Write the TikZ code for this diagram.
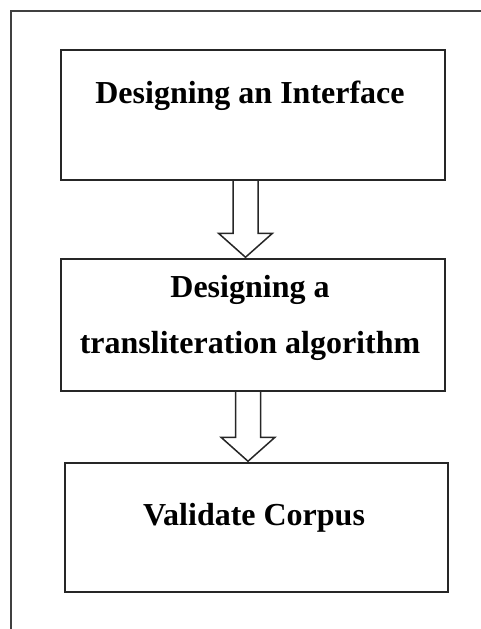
\documentclass[tikz,border=0pt]{standalone}
\usepackage{fontspec}
\setmainfont{Liberation Serif}
\usetikzlibrary{calc}

\tikzset{
  stagebox/.style={draw=black!85, line width=1.5pt, minimum width=#1, inner sep=0pt},
  stagetext/.style={font=\bfseries\fontsize{32}{38}\selectfont, inner sep=0pt, anchor=base},
  hollow/.style={draw=black!85, line width=1.5pt, line join=miter},
  frameline/.style={draw=black!75, line width=2pt}
}

% Open block arrow from the bottom of one box to the top of the next.
% #1 source node, #2 target node, #3 horizontal shift of the arrow axis
\newcommand{\hollowarrow}[3]{%
  \coordinate (#1#2top) at ($(#1.south)+(#3,0)$);
  \coordinate (#1#2tip) at (#1#2top |- #2.north);
  \draw[hollow] ($(#1#2top)+(-12.5,0)$) -- ($(#1#2tip)+(-12.5,-25)$)
    -- ($(#1#2tip)+(-27,-25)$) -- ($(#1#2tip)+(0,-1)$)
    -- ($(#1#2tip)+(27,-25)$) -- ($(#1#2tip)+(12.5,-25)$)
    -- ($(#1#2top)+(12.5,0)$);
}

\begin{document}
\begin{tikzpicture}[x=1pt, y=-1pt]
  \useasboundingbox (0,0) rectangle (481,629);

  % surrounding frame, open to the right and bottom
  \draw[frameline] (11,629) -- (11,11) -- (481,11);

  % process stages
  \node[stagebox=384pt, minimum height=130pt] (b1) at (253,115) {};
  \node[stagebox=384pt, minimum height=132pt] (b2) at (253,325) {};
  \node[stagebox=383pt, minimum height=129pt] (b3) at (256.5,527.5) {};

  \node[stagetext] (t1) at (250,103) {Designing an Interface};
  \node[stagetext] (t2a) at (250,297) {Designing a};
  \node[stagetext] (t2b) at (250,353) {transliteration algorithm};
  \node[stagetext] (t3) at (254,525) {Validate Corpus};

  % flow between stages
  \hollowarrow{b1}{b2}{-7.5}
  \hollowarrow{b2}{b3}{-5}
\end{tikzpicture}
\end{document}
